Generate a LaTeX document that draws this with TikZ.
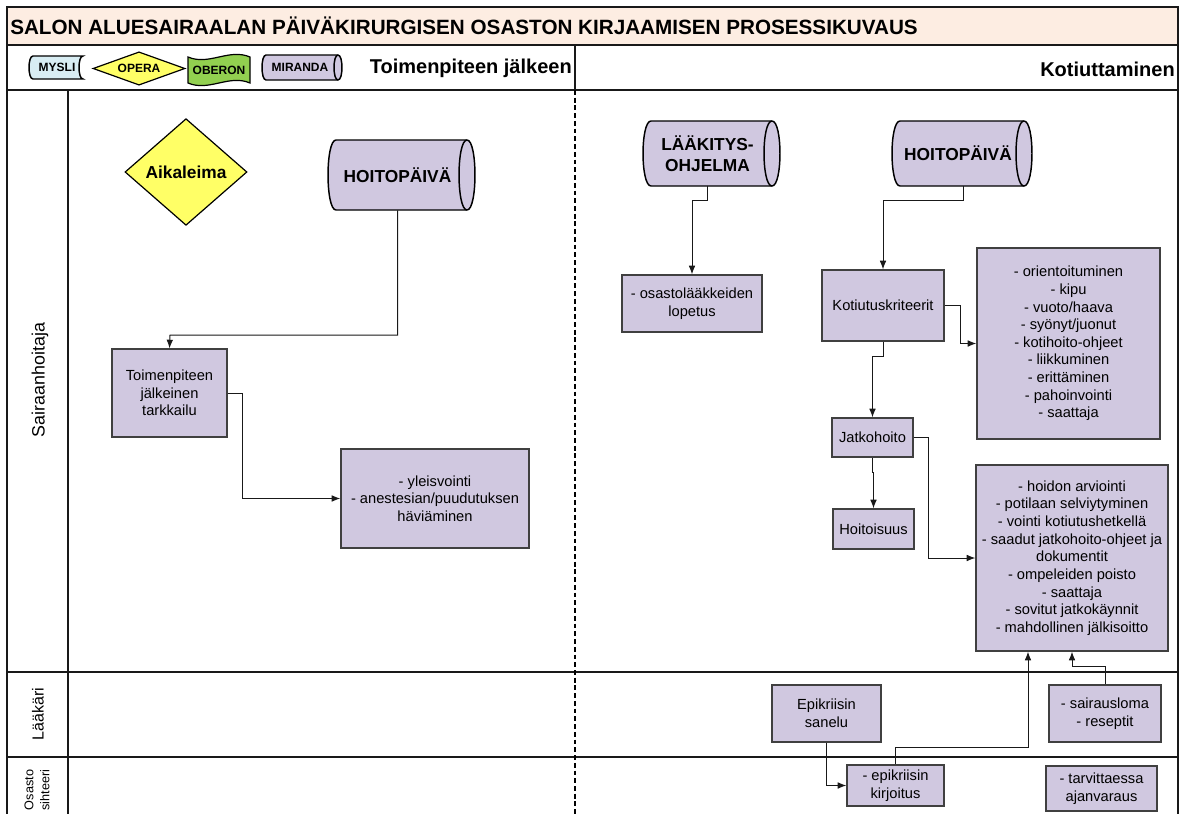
\documentclass[tikz,border=0pt]{standalone}
\usepackage{fontspec}
\setmainfont{Liberation Sans}
\usetikzlibrary{arrows.meta,shapes.geometric}

\definecolor{lav}{HTML}{D0C8E0}
\definecolor{peach}{HTML}{FDEDE2}
\definecolor{myslicol}{HTML}{D8EDF3}
\definecolor{yel}{HTML}{FFFF66}
\definecolor{grn}{HTML}{92D050}
\definecolor{boxline}{HTML}{404040}

% cylinder lying on its side: x1 y1 x2(centre of right end) y2 radius
\newcommand\cylinder[5]{%
  \filldraw[dbshape] ({#1+#5},#2) -- (#3,#2)
    .. controls ({#3+1.33*#5},#2) and ({#3+1.33*#5},#4) .. (#3,#4)
    -- ({#1+#5},#4)
    .. controls ({#1-0.33*#5},#4) and ({#1-0.33*#5},#2) .. ({#1+#5},#2) -- cycle;
  \draw[dbshape] (#3,#2) .. controls ({#3-1.33*#5},#2) and ({#3-1.33*#5},#4) .. (#3,#4);}

% stored data shape: x1 y1 x2 y2 radius
\newcommand\storeddata[5]{%
  \filldraw[dbshape, fill=myslicol] ({#1+#5},#2) -- (#3,#2)
    .. controls ({#3-1.33*#5},#2) and ({#3-1.33*#5},#4) .. (#3,#4)
    -- ({#1+#5},#4)
    .. controls ({#1-0.33*#5},#4) and ({#1-0.33*#5},#2) .. ({#1+#5},#2) -- cycle;}

\tikzset{
  frame/.style={draw=black!90, line width=1.1pt},
  proc/.style={draw=boxline, fill=lav, line width=0.9pt, inner sep=0pt, align=center,
    font=\fontsize{11}{13.2}\selectfont},
  sz/.style 2 args={minimum width=#1, minimum height=#2},
  dbshape/.style={draw=black, fill=lav, line width=1.1pt},
  dbtext/.style={inner sep=0pt, align=center, font=\bfseries\fontsize{13}{15.8}\selectfont},
  legtext/.style={inner sep=0pt, font=\bfseries\fontsize{9}{10}\selectfont},
  conn/.style={draw=black!90, line width=0.75pt, -{Latex[length=6.5pt,width=5pt]}},
  lanelabel/.style={rotate=90, align=center, inner sep=0pt},
}

\begin{document}
\begin{tikzpicture}[x=0.75pt,y=-0.75pt]
\useasboundingbox (0,0) rectangle (1186,814);

% ---------- frame, title and header ----------
\fill[peach] (7,7) rectangle (1178,45);
\draw[frame] (7,814) -- (7,7) -- (1178,7) -- (1178,814);
\draw[frame] (7,45) -- (1178,45);
\draw[frame] (7,90) -- (1178,90);
\draw[frame] (575,45) -- (575,90);
\draw[frame] (68,90) -- (68,814);
\draw[frame] (7,672) -- (1178,672);
\draw[frame] (7,757) -- (1178,757);
\draw[black, line width=1.9pt, dash pattern=on 3.6pt off 2.2pt] (575,90) -- (575,814);

\node[anchor=west, inner sep=0pt, font=\bfseries\fontsize{15.5}{17}\selectfont] (title) at (10,26)
  {SALON ALUESAIRAALAN PÄIVÄKIRURGISEN OSASTON KIRJAAMISEN PROSESSIKUVAUS};
\node[anchor=east, inner sep=0pt, font=\bfseries\fontsize{15}{17}\selectfont] (phase1) at (572,68) {Toimenpiteen jälkeen};
\node[anchor=east, inner sep=0pt, font=\bfseries\fontsize{15}{17}\selectfont] (phase2) at (1175,69) {Kotiuttaminen};

% ---------- legend ----------
\storeddata{29}{56}{83}{79}{4}
\node[legtext] (lmysli) at (57,67.5) {MYSLI};
\node[diamond, aspect=2.6, draw=black, line width=0.9pt, fill=yel, inner sep=0pt,
  minimum width=69pt, minimum height=25pt, legtext] (lopera) at (139,68.5) {OPERA};
\filldraw[draw=black, line width=0.9pt, fill=grn]
  (188,57) .. controls (209,66) and (229,48) .. (250,57) -- (250,83)
  .. controls (229,74) and (209,92) .. (188,83) -- cycle;
\node[legtext] (loberon) at (219,70) {OBERON};
\cylinder{262}{55}{338}{80}{4}
\node[legtext] (lmiranda) at (300,67.5) {MIRANDA};

% ---------- lane labels ----------
\node[lanelabel, font=\fontsize{13.4}{15}\selectfont] (lane1) at (40,380) {Sairaanhoitaja};
\node[lanelabel, font=\fontsize{12}{13}\selectfont] (lane2) at (38,714) {Lääkäri};
\node[lanelabel, font=\fontsize{9.5}{12}\selectfont] (lane3) at (37,790) {Osasto\\sihteeri};

% ---------- after the procedure ----------
\node[diamond, draw=black, line width=0.9pt, fill=yel, inner sep=0pt,
  minimum width=91.5pt, minimum height=80pt, dbtext] (aika) at (186,172) {Aikaleima};
\cylinder{328}{140}{467}{210}{8}
\node[dbtext, sz={104.25pt}{52.5pt}] (h1) at (397.5,175) {HOITOPÄIVÄ};

\node[proc, sz={86.25pt}{66pt}] (t1) at (169.5,393) {Toimenpiteen\\jälkeinen\\tarkkailu};
\node[proc, sz={141pt}{74.25pt}] (y1) at (435,498.5) {- yleisvointi\\- anestesian/puudutuksen\\häviäminen};

\draw[conn] (h1.south) |- (170,335) -- (t1.north);
\draw[conn] (t1.east) -- ++(15,0) |- (y1.west);

% ---------- discharge ----------
\cylinder{643}{121}{772}{186}{8}
\node[dbtext, sz={96.75pt}{48.75pt}] (l1) at (707.5,153.5) {LÄÄKITYS-\\OHJELMA};
\cylinder{892}{121}{1024}{186}{8}
\node[dbtext, sz={99pt}{48.75pt}] (h2) at (958,153.5) {HOITOPÄIVÄ};

\node[proc, sz={105pt}{42.75pt}] (o1) at (692,303.5) {- osastolääkkeiden\\lopetus};
\node[proc, sz={91.5pt}{53.25pt}] (k1) at (883,305.5) {Kotiutuskriteerit};
\node[proc, sz={137.25pt}{143.25pt}] (c1) at (1068.5,343.5) {- orientoituminen\\- kipu\\- vuoto/haava\\- syönyt/juonut\\- kotihoito-ohjeet\\- liikkuminen\\- erittäminen\\- pahoinvointi\\- saattaja};
\node[proc, sz={60.75pt}{29.25pt}] (j1) at (872.5,437.5) {Jatkohoito};
\node[proc, sz={60.75pt}{30pt}] (hs) at (873.5,529) {Hoitoisuus};
\node[proc, sz={144pt}{139.5pt}] (c2) at (1072,558) {- hoidon arviointi\\- potilaan selviytyminen\\- vointi kotiutushetkellä\\- saadut jatkohoito-ohjeet ja\\dokumentit\\- ompeleiden poisto\\- saattaja\\- sovitut jatkokäynnit\\- mahdollinen jälkisoitto};

\node[proc, sz={81.75pt}{42.75pt}] (e1) at (826.5,713.5) {Epikriisin\\sanelu};
\node[proc, sz={84pt}{42.75pt}] (s1) at (1105,713.5) {- sairausloma\\- reseptit};
\node[proc, sz={72.75pt}{30.75pt}] (e2) at (895.5,785.5) {- epikriisin\\kirjoitus};
\node[proc, sz={83.25pt}{33.75pt}] (ta) at (1101.5,788.5) {- tarvittaessa\\ajanvaraus};

\draw[conn] (l1.south) -- ++(0,14) -| (o1.north);
\draw[conn] ([xshift=3.75pt]h2.south) -- ++(0,14) -| (k1.north);
\draw[conn] (k1.east) -- ++(16,0) |- (c1.west);
\draw[conn] (k1.south) -- ++(0,15) -| (j1.north);
\draw[conn] (j1.east) -- ++(15,0) |- (c2.west);
\draw[conn] (j1.south) -- ++(0,15) -| (hs.north);
\draw[conn] (e1.south) |- (e2.west);
\draw[conn] (e2.north) -- ++(0,-17) -| ([xshift=-33pt]c2.south);
\draw[conn] (s1.north) -- ++(0,-18) -| (c2.south);
\end{tikzpicture}
\end{document}
